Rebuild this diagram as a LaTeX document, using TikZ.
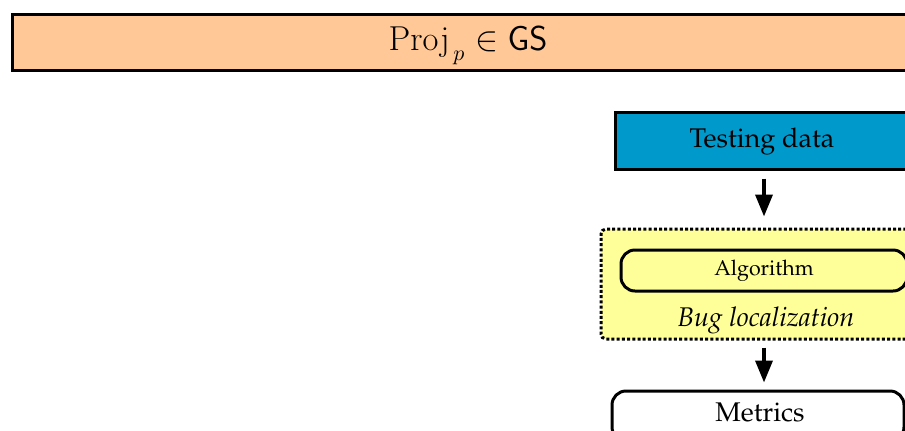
\documentclass[tikz,border=0pt]{standalone}
\usepackage[T1]{fontenc}
\usepackage{palatino}
\usetikzlibrary{arrows.meta}
\definecolor{peach}{RGB}{255,200,150}
\definecolor{cerulean}{RGB}{0,153,204}
\definecolor{paleyellow}{RGB}{255,255,153}
\tikzset{
  box/.style={draw=black, line width=1.5pt, rectangle, inner sep=0pt},
  roundbox/.style={box, rounded corners=7pt},
  groupbox/.style={draw=black, line width=1.5pt, dash pattern=on 1.5pt off 1.1pt, rounded corners=2.5pt, fill=paleyellow, inner sep=0pt},
  flow/.style={line width=1.8pt, -{Triangle[length=11pt,width=8.5pt]}},
  big/.style={font=\fontsize{13.5}{16}\selectfont},
  small/.style={font=\fontsize{10.7}{13}\selectfont}
}
\begin{document}
\begin{tikzpicture}[x=0.5pt, y=-0.5pt]
  \useasboundingbox (0,0) rectangle (905,430);
  \clip (0,0) rectangle (905,430);

  % project header
  \node[box, fill=peach, minimum width=913*0.5pt, minimum height=56*0.5pt]
    (proj) at (468.5,42) {};
  \node[font=\fontsize{16.3}{19}\selectfont] (projtxt) at (468,46)
    {$\mathrm{Proj}_{\,\lower1pt\hbox{$\scriptstyle p$}} \in \mathsf{GS}$};

  % input data
  \node[box, fill=cerulean, minimum width=298*0.5pt, minimum height=57*0.5pt]
    (td) at (764,140.5) {};
  \node[big] (tdtxt) at (762,142) {Testing data};

  % bug localization stage
  \node[groupbox, minimum width=326*0.5pt, minimum height=110*0.5pt]
    (bl) at (764,284) {};
  \node[roundbox, fill=paleyellow, minimum width=286*0.5pt, minimum height=41*0.5pt, small]
    (alg) at (764,270.5) {Algorithm};
  \node[font=\fontsize{13.5}{16}\selectfont\itshape] (bltxt) at (766,320) {Bug localization};

  % evaluation
  \node[roundbox, fill=white, minimum width=292*0.5pt, minimum height=50*0.5pt]
    (met) at (758,416) {};
  \node[big] (mettxt) at (760,412) {Metrics};

  % connectors
  \draw[flow, shorten <=8*0.5pt, shorten >=11*0.5pt] (td.south) -- (bl.north);
  \draw[flow, shorten <=7*0.5pt, shorten >=7*0.5pt] (bl.south) -- (bl.south |- met.north);
\end{tikzpicture}
\end{document}
